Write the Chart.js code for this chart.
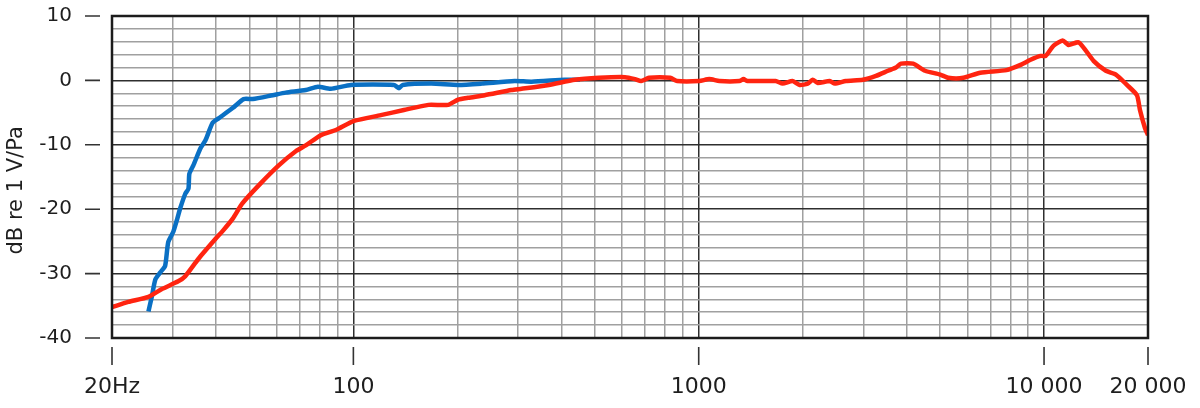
<!DOCTYPE html>
<html>
<head>
<meta charset="utf-8">
<script src="https://cdn.jsdelivr.net/npm/chart.js@4.4.1/dist/chart.umd.min.js"></script>
<style>
  html, body { margin: 0; padding: 0; background: #fff; }
  #wrap { width: 1200px; height: 408px; }
</style>
</head>
<body>
<div id="wrap"><canvas id="graph"></canvas></div>
<script>
// Frequency response, values
const blueFreq = [25.5, 26.1, 26.7, 27.6, 28.5, 29.1, 30.1, 30.9, 31.5, 32.6, 33.3, 33.5, 34.4, 36.1,
    37.3, 39.1, 40.7, 44.7, 48.1, 51.1, 58.4, 63.7, 72.8, 78.9, 86, 98.4, 131, 135.6, 139, 168,
    201, 235, 293, 328, 409, 453];
const blueDb = [-35.9, -33.5, -30.9, -29.8, -28.8, -25.1, -23.5, -21.5, -19.9, -17.6, -16.8, -14.5, -13.2, -10.5,
    -9.3, -6.6, -5.9, -4.3, -2.9, -2.9, -2.3, -1.9, -1.5, -1.0, -1.3, -0.7, -0.7, -1.2, -0.7, -0.5,
    -0.7, -0.5, -0.1, -0.2, 0.1, 0.1];

const redFreq = [20, 22.3, 25.5, 27.9, 31.1, 32.6, 35.6, 39.9, 41.8, 44.7, 47.7, 53.2, 60.8, 68.1, 72.8,
    80.5, 89, 100.4, 120, 140, 165, 188, 201, 215, 240, 287, 307, 368, 438, 514, 612, 654, 681, 718,
    827, 866, 1004, 1073, 1148, 1312, 1348, 1384, 1670, 1750, 1870, 1960, 2068, 2138, 2211, 2396,
    2478, 2668, 2988, 3260, 3534, 3727, 3854, 4177, 4525, 5004, 5281, 5838, 6538, 7782, 8548, 9140,
    9774, 10106, 10662, 11324, 11788, 12604, 13932, 15102, 16144, 17378, 18580, 18956, 19600, 20000];
const redDb = [-35.2, -34.4, -33.6, -32.4, -31.2, -30.4, -27.7, -24.6, -23.4, -21.5, -19.1, -16.3, -13.2, -11.0, -10.1,
    -8.5, -7.7, -6.3, -5.4, -4.6, -3.8, -3.8, -3.0, -2.7, -2.3, -1.5, -1.3, -0.7, 0.1, 0.4, 0.5, 0.2, -0.1, 0.4,
    0.4, -0.1, -0.1, 0.2, -0.1, -0.1, 0.2, -0.1, -0.1, -0.5, -0.1, -0.7, -0.5, 0.1, -0.4, -0.1,
    -0.5, -0.1, 0.1, 0.7, 1.5, 2.0, 2.6, 2.6, 1.5, 0.9, 0.4, 0.4, 1.2, 1.6, 2.4, 3.2,
    3.8, 3.8, 5.4, 6.2, 5.5, 5.9, 3.0, 1.5, 0.9, -0.7, -2.3, -4.6, -7.4, -8.5];

// axis ticks
const xGridValues = [20, 30, 40, 50, 60, 70, 80, 90, 100, 200, 300, 400, 500, 600, 700, 800, 900,
    1000, 2000, 3000, 4000, 5000, 6000, 7000, 8000, 9000, 10000, 20000];
const xMajorValues = [100, 1000, 10000, 20000];
const xTickValues = [20, 100, 1000, 10000, 20000];
const xTickLabels = ['20Hz', '100', '1000', '10 000', '20 000'];
const yLabelValues = [10, 0, -10, -20, -30, -40];

const gridGray = '#a0a0a0';
const gridDark = '#2e2e2e';
const textColor = '#1e1e1e';

// frame + the detached tick marks outside the plot
const frameMarks = {
    id: 'frameMarks',
    afterDraw(chart) {
        const {ctx, chartArea: a, scales: {x, y}} = chart;
        ctx.save();
        ctx.strokeStyle = '#1c1c1c';
        ctx.lineWidth = 2.5;
        ctx.strokeRect(a.left, a.top, a.right - a.left, a.bottom - a.top);
        ctx.lineWidth = 1.6;
        ctx.strokeStyle = '#333';
        ctx.beginPath();
        xTickValues.forEach(v => {
            const px = x.getPixelForValue(v);
            ctx.moveTo(px, a.bottom + 9);
            ctx.lineTo(px, a.bottom + 27);
        });
        yLabelValues.forEach(v => {
            const py = y.getPixelForValue(v);
            ctx.moveTo(a.left - 27, py);
            ctx.lineTo(a.left - 12, py);
        });
        ctx.stroke();
        ctx.restore();
    }
};

new Chart(document.getElementById('graph'), {
    type: 'line',
    data: {
        datasets: [{
            data: redFreq.map((f, i) => ({x: f, y: redDb[i]})),
            borderColor: '#ff2410',
            borderWidth: 4.5,
            pointRadius: 0,
            tension: 0.2,
            order: 0
        }, {
            data: blueFreq.map((f, i) => ({x: f, y: blueDb[i]})),
            borderColor: '#0a70c4',
            borderWidth: 4.5,
            pointRadius: 0,
            tension: 0.2,
            order: 1
        }]
    },
    options: {
        responsive: true,
        maintainAspectRatio: false,
        animation: false,
        layout: {padding: {top: 16, right: 52, left: 0, bottom: 0}},
        plugins: {legend: {display: false}, tooltip: {enabled: false}},
        scales: {
            x: {
                type: 'logarithmic',
                min: 20,
                max: 20000,
                afterBuildTicks: scale => {
                    scale.ticks = xGridValues.map(v => ({value: v}));
                },
                afterFit: scale => {
                    scale.height = 70;
                    scale.paddingLeft = 0;
                    scale.paddingRight = 0;
                },
                border: {display: false},
                grid: {
                    drawTicks: false,
                    color: ctx => xMajorValues.includes(ctx.tick && ctx.tick.value) ? gridDark : gridGray,
                    lineWidth: 1.5
                },
                ticks: {
                    autoSkip: false,
                    maxRotation: 0,
                    padding: 36,
                    color: textColor,
                    font: {family: 'DejaVu Sans', size: 22},
                    callback: v => {
                        const i = xTickValues.indexOf(v);
                        return i >= 0 ? xTickLabels[i] : '';
                    }
                }
            },
            y: {
                min: -40,
                max: 10,
                afterFit: scale => {
                    scale.width = 112;
                    scale.paddingTop = 0;
                    scale.paddingBottom = 0;
                },
                border: {display: false},
                grid: {
                    drawTicks: false,
                    color: ctx => ctx.tick && ctx.tick.value % 10 === 0 ? gridDark : gridGray,
                    lineWidth: 1.5
                },
                ticks: {
                    stepSize: 2,
                    autoSkip: false,
                    padding: 40,
                    color: textColor,
                    font: {family: 'DejaVu Sans', size: 20},
                    callback: v => (v % 10 === 0 ? String(v) : '')
                },
                title: {
                    display: true,
                    text: 'dB re 1 V/Pa    ',
                    color: textColor,
                    font: {family: 'DejaVu Sans', size: 21},
                    padding: {top: 4, bottom: 0}
                }
            }
        }
    },
    plugins: [frameMarks]
});
</script>
</body>
</html>
